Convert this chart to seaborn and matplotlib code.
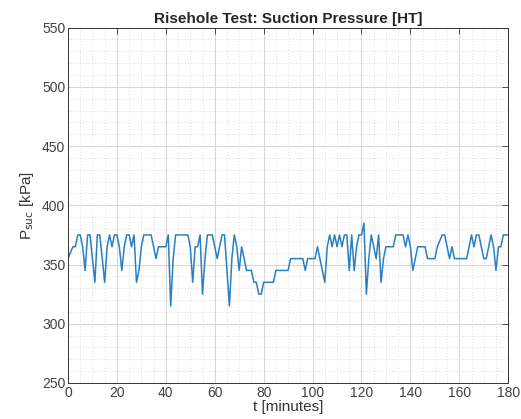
import numpy as np
import pandas as pd
import matplotlib
matplotlib.use("Agg")
import matplotlib.pyplot as plt
from matplotlib.ticker import MultipleLocator
import seaborn as sns

# time in minutes, one sample per minute
t_min = list(range(0, 181))

# suction pressure readings [kPa]
p_suc = [
    355, 360, 365, 365, 375, 375, 365, 345, 375, 375,   # 0-9
    355, 335, 375, 375, 355, 335, 365, 375, 365, 375,   # 10-19
    375, 365, 345, 365, 375, 375, 365, 375, 335, 345,   # 20-29
    365, 375, 375, 375, 375, 365, 355, 365, 365, 365,   # 30-39
    365, 375, 315, 355, 375, 375, 375, 375, 375, 375,   # 40-49
    365, 335, 365, 365, 375, 325, 355, 375, 375, 375,   # 50-59
    365, 355, 365, 375, 375, 345, 315, 355, 375, 365,   # 60-69
    345, 365, 355, 345, 345, 345, 335, 335, 325, 325,   # 70-79
    335, 335, 335, 335, 335, 345, 345, 345, 345, 345,   # 80-89
    345, 355, 355, 355, 355, 355, 355, 345, 355, 355,   # 90-99
    355, 355, 365, 355, 345, 335, 365, 375, 365, 375,   # 100-109
    365, 375, 365, 375, 375, 345, 375, 345, 365, 375,   # 110-119
    375, 385, 325, 355, 375, 365, 355, 375, 335, 355,   # 120-129
    365, 365, 365, 365, 375, 375, 375, 375, 365, 375,   # 130-139
    365, 345, 355, 365, 365, 365, 365, 355, 355, 355,   # 140-149
    355, 365, 370, 375, 375, 365, 355, 365, 355, 355,   # 150-159
    355, 355, 355, 355, 365, 375, 365, 375, 375, 365,   # 160-169
    355, 355, 365, 375, 365, 345, 365, 365, 375, 375,   # 170-179
    375,                                                # 180
]

x_ticks = list(range(0, 181, 20))
y_ticks = list(range(250, 551, 50))

df = pd.DataFrame({"t": t_min, "p": p_suc})

sns.set_style("white")
plt.rcParams["font.family"] = ["Liberation Sans", "DejaVu Sans"]

fig = plt.figure(figsize=(5.21, 4.19), dpi=100)
ax = fig.add_axes([0.1305, 0.086, 0.845, 0.848])

sns.lineplot(data=df, x="t", y="p", ax=ax, color="#2a7fc0", linewidth=1.1)

ax.set_xlim(0, 180)
ax.set_ylim(250, 550)
ax.set_xticks(x_ticks)
ax.set_yticks(y_ticks)
ax.xaxis.set_minor_locator(MultipleLocator(5))
ax.yaxis.set_minor_locator(MultipleLocator(10))

ax.grid(which="major", color="#d6d6d6", linewidth=0.7)
ax.grid(which="minor", color="#cfcfcf", linewidth=0.6, linestyle=(0, (1, 2.5)))
ax.set_axisbelow(True)

ax.tick_params(which="major", direction="in", length=4, width=0.6, color="#333333",
               top=True, right=True, labelsize=10, labelcolor="#404040", pad=2)
ax.tick_params(which="minor", length=0, top=True, right=True)
for s in ax.spines.values():
    s.set_visible(True)
    s.set_color("#333333")
    s.set_linewidth(0.7)

ax.set_title("Risehole Test: Suction Pressure [HT]", fontsize=11, fontweight="bold", pad=3)
ax.set_xlabel("t [minutes]", fontsize=11, color="#333333", labelpad=0)
ax.set_ylabel("P$_{\\rm suc}$ [kPa]", fontsize=11, color="#333333", labelpad=4)

fig.savefig("out.png", dpi=100)
